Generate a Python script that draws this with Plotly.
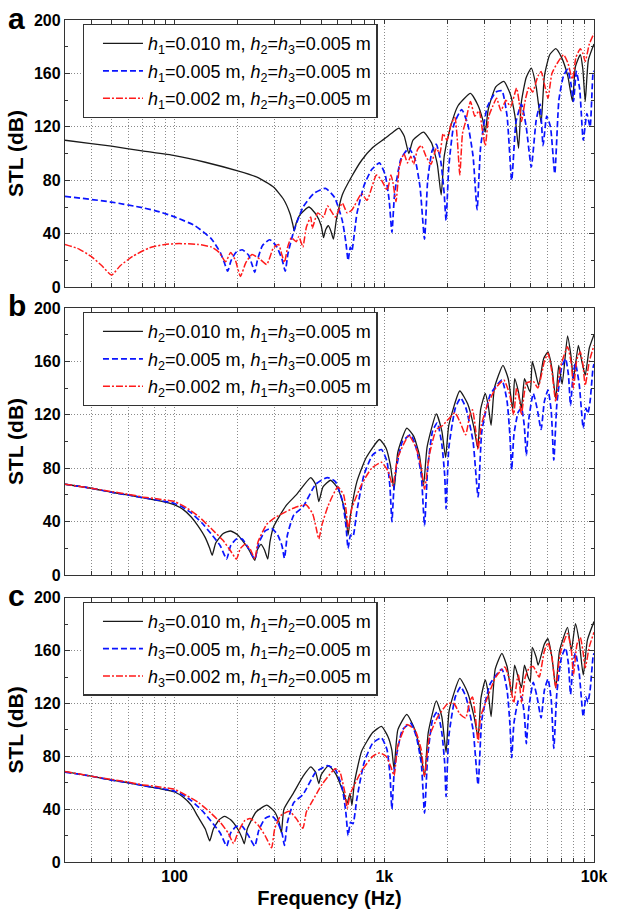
import math
import plotly.graph_objects as go

# ---------------- data (frequency in Hz, STL in dB) ----------------
# panel a : h1 varied, h2 = h3 = 0.005 m
A_h1_010 = [(30,110),(40,107.5),(50,105.5),(70,102),(100,98.5),(140,93.5),(200,87),(250,82),(296,75),(330,66),(355,55),(366,47),(372,42),(380,48),(395,54),(437,60),(475,54),(500,46),(513,37),(525,43),(541,46),(556,42),(572,36),(590,50),(630,69),(700,83),(780,95),(880,104.5),(1000,111),(1100,116),(1175,119),(1245,113),(1309,100),(1370,110),(1538,116),(1680,108),(1790,92),(1867,69),(1930,98),(2053,118),(2250,136),(2576,145),(2800,136),(2950,125),(3030,116),(3130,133),(3400,150),(3715,154),(3980,145),(4200,128),(4368,104),(4500,138),(4750,157),(5023,164),(5300,150),(5594,123),(5800,158),(6150,174),(6572,178.5),(7000,172),(7500,158),(7895,139),(8150,165),(8604,174),(8850,163),(9080,139),(9400,170),(10000,182)]
A_h1_005 = [(30,68),(50,63.7),(70,59.5),(85,56.3),(100,52.6),(125,46),(150,36),(165,26),(172,19),(179,12),(186,20),(196,26),(210,28),(225,24),(235,16),(241,11),(248,20),(262,31),(284,35.5),(305,31),(325,21),(337,12),(347,25),(370,42),(410,60),(460,70),(524,74),(580,67),(630,50),(655,34),(672,20),(688,30),(700,27),(740,55),(800,76),(870,88),(948,93),(1010,84),(1055,65),(1087,41),(1120,70),(1200,96),(1309,104),(1400,96),(1480,75),(1555,36),(1610,80),(1690,102),(1770,107),(1860,94),(1930,70),(1970,50),(2030,90),(2150,122),(2340,133),(2500,122),(2650,98),(2770,58),(2880,105),(3100,135),(3400,146),(3637,147),(3850,128),(4051,80),(4250,124),(4509,137),(4750,120),(5023,90),(5300,125),(5530,137),(5716,106),(5950,128),(6200,120),(6500,85),(6800,140),(7150,158),(7479,163),(7750,153),(7980,139),(8242,161.5),(8550,148),(8886,110),(9250,130),(9580,120),(9893,160),(10000,162)]
A_h1_002 = [(30,32),(35,28.5),(40,23),(45,16),(50,9),(55,16),(63,23),(76,29.5),(90,32),(105,32.6),(129,32),(150,30),(163,26),(175,19),(185,26),(195,20),(206,8),(218,18),(234,24.4),(255,21),(275,17),(295,29),(313,32),(325,24),(334,18.5),(346,30),(360,37),(380,34),(391,38),(400,34),(409,30),(425,45),(446,52.6),(453,44),(481,55.6),(513,52.6),(536,60.7),(584,52.6),(630,63),(665,55.6),(701,57.8),(780,70),(827,65),(917,84),(970,80),(1033,72.6),(1075,84),(1100,78),(1137,64),(1180,90),(1240,100),(1290,93),(1337,98),(1380,92),(1440,103),(1503,106),(1580,98),(1668,92),(1770,104),(1840,100),(1907,115),(1990,110),(2080,122),(2171,127),(2230,110),(2291,84),(2360,115),(2442,124),(2576,139),(2700,128),(2830,132),(2933,118),(3030,106),(3150,128),(3300,136),(3430,141.5),(3600,132),(3800,140),(4000,135),(4275,149),(4400,138),(4509,124),(4700,140),(4900,150),(5100,146),(5400,158),(5594,161.5),(5800,152),(6034,141.5),(6300,160),(6700,168),(7164,174),(7500,168),(7895,155.6),(8200,172),(8604,178.5),(8850,175),(9080,169),(9500,182),(10000,190)]

# panel b : h2 varied, h1 = h3 = 0.005 m
B_h2_010 = [(30,68),(40,65),(50,62),(60,60),(70,58),(85,55.5),(100,52.6),(110,49),(120,43.5),(129,37),(140,28),(147,20),(151,14.8),(157,24),(170,31),(185,33),(200,30),(222,21),(235,14),(241,11),(248,19),(258,23),(268,19),(278,12),(285,25),(296,36),(340,52),(380,60),(446,73),(470,68),(487,55),(510,66),(554,71),(600,65),(640,52),(660,40),(672,30),(690,45),(740,70),(820,88),(948,101.5),(1020,95),(1070,82),(1113,64),(1160,92),(1280,110),(1380,104),(1470,90),(1538,67),(1600,96),(1770,120.7),(1880,108),(1960,88),(2030,112),(2291,137.8),(2500,128),(2680,110),(2790,95),(2880,124),(3030,136),(3130,127),(3230,112),(3350,140),(3680,157),(3900,147),(4100,124),(4184,147),(4350,138),(4509,125),(4660,147),(4860,140),(4968,137),(5077,160),(5250,152),(5450,142),(5750,162),(6034,167),(6300,155),(6572,132),(6788,157),(7050,143),(7479,179),(7750,165),(7980,147),(8421,172),(8750,160),(9080,149.6),(9500,170),(10000,180)]
# h1 = h2 = h3 = 0.005 m (same configuration in panels b and c)
ALL_005 = [(30,68),(40,65),(50,62),(60,60),(70,58),(85,55.8),(100,53.6),(110,50.5),(120,46.5),(135,39),(149,31),(165,22),(177,12),(185,22),(197,27),(210,27),(225,20),(241,12),(252,24),(270,33),(290,35),(310,30),(325,22),(334,12.6),(345,30),(370,45),(409,51),(471,68),(536,73),(584,70),(630,56),(655,38),(672,20),(690,30),(709,29),(740,48),(800,75),(880,90),(969,94),(1030,85),(1065,65),(1087,40),(1120,72),(1220,100),(1337,105),(1420,95),(1500,75),(1555,37),(1610,80),(1700,108),(1790,114),(1880,98),(1940,75),(1970,49.6),(2030,95),(2180,125),(2315,132.6),(2450,125),(2650,100),(2800,58.5),(2920,108),(3200,135),(3637,146),(3850,130),(3970,105),(4051,79),(4150,105),(4350,122),(4509,125),(4650,112),(4758,89.6),(4900,118),(5132,136),(5350,125),(5594,109),(5800,130),(6034,138.5),(6250,123),(6432,86),(6650,128),(7000,155),(7320,162),(7550,150),(7727,127),(7950,150),(8154,158.5),(8500,143),(8886,110),(9150,125),(9350,121),(9580,130),(9893,155),(10000,158)]
B_h2_002 = [(30,68),(40,65),(50,62.5),(60,60.5),(70,58.5),(85,56.8),(100,55),(115,50),(130,44),(149,35),(170,26),(185,18),(197,12),(206,20),(217,23),(230,19),(241,12),(250,25),(275,38),(306,43.7),(380,51),(423,52.6),(455,46),(472,36),(487,27),(505,38),(540,52),(600,66),(640,60),(660,46),(672,34),(700,50),(780,68),(870,80),(969,84.4),(1040,78),(1098,67),(1160,88),(1309,104.5),(1420,95),(1500,80),(1555,64.4),(1640,90),(1770,109),(1900,112),(2171,121.5),(2290,115),(2442,105),(2560,120),(2634,123.7),(2720,110),(2800,94),(2900,112),(3093,126.7),(3400,140),(3715,146),(3950,136),(4139,120),(4275,140),(4400,132),(4509,120),(4758,143.7),(5132,145),(5400,140),(5800,160),(6034,166),(6300,152),(6572,130),(6900,155),(7479,171),(7800,158),(7980,140),(8300,162),(8604,167),(8850,158),(9080,142),(9500,160),(10000,172)]

# panel c : h3 varied, h1 = h2 = 0.005 m
C_h3_010 = [(30,68.5),(40,65),(50,62),(60,60),(70,58),(85,55.5),(100,53),(110,49),(120,43),(129,34.5),(140,25),(147,16),(153,25),(163,32),(173,34.5),(185,32),(200,25),(210,18),(215,13.8),(222,25),(245,38),(275,43),(300,38),(315,30),(323,22),(332,40),(368,52),(410,65),(446,72),(470,68),(487,59.4),(500,66),(542,73),(590,66),(640,52),(665,44.5),(686,52),(701,43),(720,60),(780,84),(880,98),(969,102.6),(1040,95),(1085,85),(1113,70.5),(1160,100),(1280,111.7),(1400,100),(1500,80),(1555,64.6),(1620,98),(1770,122),(1880,110),(1970,83),(2040,115),(2291,139),(2500,128),(2680,110),(2800,94.5),(2890,124),(3030,137.8),(3130,128),(3230,110),(3380,146),(3637,158),(3850,148),(4051,126.6),(4184,149),(4380,138),(4509,132),(4660,149),(4850,140),(4968,136.5),(5077,162.5),(5300,155),(5417,149),(5800,165),(6034,169),(6300,155),(6572,132),(6850,160),(7479,177.6),(7800,160),(8154,180.5),(8500,167),(8886,141.5),(9300,168),(10000,182)]
C_h3_002 = [(30,68.5),(40,65),(50,62.5),(60,60.5),(70,58.5),(85,56.8),(100,55),(115,50),(130,45),(149,37),(165,30),(180,22),(191,14),(200,22),(215,31),(229,33),(250,28),(270,20),(290,10.8),(300,25),(320,35),(352,38.4),(380,33),(409,25.6),(425,38),(446,44),(508,59.4),(584,70.6),(615,68),(630,61.6),(650,52),(665,40.7),(690,52),(780,69),(880,80),(948,82.6),(1020,80),(1075,72),(1113,65.4),(1160,88),(1280,104),(1400,100),(1500,85),(1555,64.6),(1640,95),(1800,110),(2010,120),(2150,120),(2290,112),(2442,109),(2560,122),(2634,125),(2720,110),(2800,90.6),(2880,110),(3030,120),(3400,140),(3756,147.6),(3950,138),(4139,120.5),(4300,138),(4368,141.5),(4509,121),(4700,140),(4915,147),(5132,148),(5476,140),(5800,160),(6034,166),(6300,155),(6572,132),(6900,158),(7479,173),(7800,160),(7980,141.5),(8300,165),(8604,170),(8850,160),(9080,147),(9500,163),(10000,174)]

X_GRID = [30,40,50,60,70,80,90,100,200,300,400,500,600,700,800,900,1000,
          2000,3000,4000,5000,6000,7000,8000,9000,10000]
X_LABELS = {100: "100", 1000: "1k", 10000: "10k"}
Y_TICKS = [0, 40, 80, 120, 160, 200]

LEG_A = ["<i>h</i><sub>1</sub>=0.010 m, <i>h</i><sub>2</sub>=<i>h</i><sub>3</sub>=0.005 m",
         "<i>h</i><sub>1</sub>=0.005 m, <i>h</i><sub>2</sub>=<i>h</i><sub>3</sub>=0.005 m",
         "<i>h</i><sub>1</sub>=0.002 m, <i>h</i><sub>2</sub>=<i>h</i><sub>3</sub>=0.005 m"]
LEG_B = ["<i>h</i><sub>2</sub>=0.010 m, <i>h</i><sub>1</sub>=<i>h</i><sub>3</sub>=0.005 m",
         "<i>h</i><sub>2</sub>=0.005 m, <i>h</i><sub>1</sub>=<i>h</i><sub>3</sub>=0.005 m",
         "<i>h</i><sub>2</sub>=0.002 m, <i>h</i><sub>1</sub>=<i>h</i><sub>3</sub>=0.005 m"]
LEG_C = ["<i>h</i><sub>3</sub>=0.010 m, <i>h</i><sub>1</sub>=<i>h</i><sub>2</sub>=0.005 m",
         "<i>h</i><sub>3</sub>=0.005 m, <i>h</i><sub>1</sub>=<i>h</i><sub>2</sub>=0.005 m",
         "<i>h</i><sub>3</sub>=0.002 m, <i>h</i><sub>1</sub>=<i>h</i><sub>2</sub>=0.005 m"]

PANELS = [
    ("a", [A_h1_010, A_h1_005, A_h1_002], LEG_A),
    ("b", [B_h2_010, ALL_005, B_h2_002], LEG_B),
    ("c", [C_h3_010, ALL_005, C_h3_002], LEG_C),
]

# ---------------- styling ----------------
FONT = "Liberation Sans, Arial, sans-serif"
STYLES = [dict(color="#1a1a1a", width=1.3, dash="solid"),
          dict(color="#0a14ff", width=1.7, dash="6px,3px"),
          dict(color="#ff1a1a", width=1.5, dash="7px,2px,2px,2px")]

W, H = 619, 917
ML, MR, MT, MB = 65, 15, 18, 48
PH = H - MT - MB
# pixel rows (top, bottom) for each panel
ROWS = [(18, 288), (309, 579), (602, 869)]


def py(pix):
    return (H - MB - pix) / PH


fig = go.Figure()
legend_names = ["legend", "legend2", "legend3"]
for i, (letter, series, labels) in enumerate(PANELS):
    sfx = "" if i == 0 else str(i + 1)
    for j, (data, lab) in enumerate(zip(series, labels)):
        fig.add_trace(go.Scatter(
            x=[p[0] for p in data], y=[p[1] for p in data],
            mode="lines", name=lab, line=dict(**STYLES[j], shape="spline", smoothing=0.5),
            xaxis="x" + sfx, yaxis="y" + sfx, legend=legend_names[i],
            legendgroup=f"g{i}{j}"))
    top, bot = ROWS[i]
    dom = [py(bot), py(top)]
    last = (i == 2)
    fig.layout["xaxis" + sfx] = dict(
        type="log", range=[math.log10(30), 4], domain=[0, 1], anchor="y" + sfx,
        tickmode="array", tickvals=X_GRID,
        ticktext=[f"<b>{X_LABELS[v]}</b>" if v in X_LABELS else "" for v in X_GRID],
        showticklabels=last,
        tickfont=dict(family=FONT, size=16, color="black"),
        showgrid=True, gridcolor="#8a8a8a", griddash="1px,2px", gridwidth=1,
        ticks="inside", ticklen=4, tickcolor="#333", tickwidth=1,
        showline=True, linecolor="#333", linewidth=1.3, mirror="ticks",
        zeroline=False,
        title=dict(text="<b>Frequency (Hz)</b>" if last else "",
                   font=dict(family=FONT, size=20, color="black"), standoff=6),
    )
    fig.layout["yaxis" + sfx] = dict(
        range=[0, 200], domain=dom, anchor="x" + sfx,
        tickmode="array", tickvals=Y_TICKS, ticktext=[f"<b>{v}</b>" for v in Y_TICKS],
        tickfont=dict(family=FONT, size=16, color="black"),
        showgrid=True, gridcolor="#8a8a8a", griddash="1px,2px", gridwidth=1,
        ticks="inside", ticklen=5, tickcolor="#333",
        minor=dict(tickvals=[20, 60, 100, 140, 180], ticks="inside", ticklen=3,
                   tickcolor="#333", showgrid=False),
        showline=True, linecolor="#333", linewidth=1.3, mirror="ticks",
        zeroline=False,
        title=dict(text="<b>STL (dB)</b>", font=dict(family=FONT, size=21, color="black"),
                   standoff=4),
    )
    fig.layout[legend_names[i]] = dict(
        x=(83 - ML) / (W - ML - MR), y=py(top + 4), xanchor="left", yanchor="top",
        bgcolor="white", bordercolor="#333", borderwidth=1.3,
        font=dict(family=FONT, size=18, color="black"),
        tracegroupgap=1, itemwidth=40, indentation=14)
    fig.add_annotation(
        text=f"<b>{letter}</b>", xref="paper", yref="paper",
        x=(16 - ML) / (W - ML - MR), y=py(top - 2), xanchor="center", yanchor="middle",
        showarrow=False, font=dict(family=FONT, size=30, color="black"))

fig.update_layout(
    width=W, height=H, margin=dict(l=ML, r=MR, t=MT, b=MB),
    paper_bgcolor="white", plot_bgcolor="white", showlegend=True,
    font=dict(family=FONT, color="black"),
)

fig.write_html("out.html")
